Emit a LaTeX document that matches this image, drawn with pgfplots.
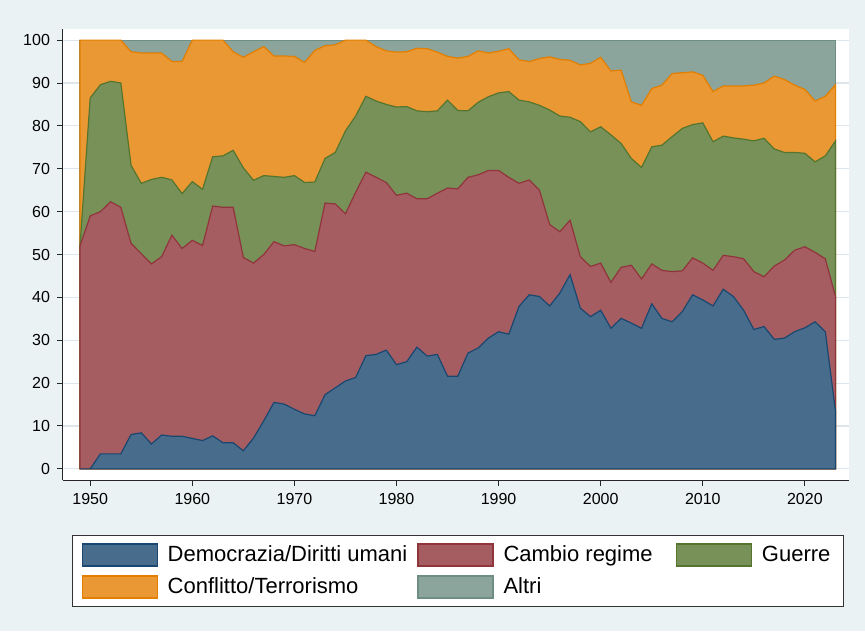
\documentclass[border=0pt]{standalone}
\usepackage{pgfplots}
\usepackage{pgfplotstable}
\pgfplotsset{compat=1.18}
\usepackage{fontspec}
\setmainfont{Liberation Sans}
\definecolor{snavy}{RGB}{26,71,111}
\definecolor{smaroon}{RGB}{144,53,59}
\definecolor{sgreen}{RGB}{85,117,47}
\definecolor{sorange}{RGB}{227,126,0}
\definecolor{steal}{RGB}{110,142,132}
\definecolor{bgc}{RGB}{234,242,243}
\definecolor{gridc}{RGB}{222,230,235}

\pgfplotstableread{
year B R G O T
1949 0 52 52 100 100
1950 0 59 86.5 100 100
1951 3.5 60 89.6 100 100
1952 3.5 62.3 90.4 100 100
1953 3.5 61 90 100 100
1954 8 52.6 70.8 97.3 100
1955 8.4 50.2 66.6 97 100
1956 5.8 47.8 67.5 97 100
1957 7.9 49.5 68 97 100
1958 7.6 54.5 67.4 95 100
1959 7.6 51.4 64.2 95 100
1960 7.1 53.3 67 100 100
1961 6.6 52.1 65.2 100 100
1962 7.7 61.3 72.8 100 100
1963 6.1 61 73 100 100
1964 6.1 61 74.3 97.3 100
1965 4.2 49.3 70.2 96 100
1966 7.2 48 67.3 97.3 100
1967 11.2 50 68.4 98.5 100
1968 15.5 53 68.2 96.3 100
1969 15.1 52 68 96.3 100
1970 13.9 52.3 68.4 96.2 100
1971 12.8 51.4 66.8 94.8 100
1972 12.4 50.7 66.9 97.6 100
1973 17.3 62 72.4 98.7 100
1974 18.9 61.8 73.8 98.9 100
1975 20.5 59.5 78.8 100 100
1976 21.3 64.5 82.3 100 100
1977 26.4 69.2 86.9 100 100
1978 26.7 68 85.8 98.5 100
1979 27.7 66.8 85 97.5 100
1980 24.3 63.8 84.4 97.2 100
1981 25 64.3 84.5 97.3 100
1982 28.4 63 83.5 98.1 100
1983 26.3 63 83.3 98 100
1984 26.7 64.3 83.5 97.2 100
1985 21.6 65.5 86 96.2 100
1986 21.6 65.3 83.6 95.8 100
1987 27 68 83.5 96.2 100
1988 28.2 68.6 85.5 97.5 100
1989 30.5 69.6 86.8 97 100
1990 32 69.6 87.7 97.4 100
1991 31.4 68 88 98 100
1992 37.9 66.6 86 95.4 100
1993 40.6 67.4 85.6 95 100
1994 40.2 65 84.8 95.7 100
1995 38 57 83.7 96.1 100
1996 41 55.3 82.3 95.5 100
1997 45.3 58 82 95.3 100
1998 37.5 49.5 81 94.2 100
1999 35.5 47.2 78.6 94.6 100
2000 37 48 79.8 96 100
2001 32.8 43.5 77.9 92.8 100
2002 35.1 47 75.9 93 100
2003 34 47.5 72.4 85.6 100
2004 32.8 44.3 70.3 84.8 100
2005 38.5 47.8 75.1 88.7 100
2006 35.1 46.3 75.5 89.5 100
2007 34.3 46 77.5 92.2 100
2008 36.7 46.2 79.4 92.4 100
2009 40.6 49.2 80.3 92.6 100
2010 39.4 48 80.7 91.8 100
2011 38 46.3 76.3 88 100
2012 41.9 49.8 77.6 89.3 100
2013 40.2 49.5 77.2 89.3 100
2014 37 49 76.9 89.3 100
2015 32.5 46 76.5 89.5 100
2016 33.2 44.8 77.1 90 100
2017 30.2 47.3 74.6 91.6 100
2018 30.5 48.7 73.8 90.8 100
2019 32 51 73.8 89.5 100
2020 32.9 51.8 73.6 88.5 100
2021 34.3 50.5 71.6 85.8 100
2022 32 49 73 86.9 100
2023 13.4 40.2 76.5 89.6 100
}\data

\begin{document}
\begin{tikzpicture}
\fill[bgc] (-31.5pt,-75.5pt) rectangle (401pt,240pt);
\begin{axis}[
  at={(0,0)}, anchor=south west,
  scale only axis, width=393pt, height=225.5pt,
  xmin=1947.335, xmax=2024.32, ymin=-2.6, ymax=102.6,
  axis background/.style={fill=white},
  axis x line*=bottom, axis y line*=left,
  axis line style={black!85, line width=0.5pt},
  xtick={1950,1960,...,2020}, ytick={0,10,...,100},
  tick align=outside, major tick length=3pt,
  tick style={black!85, line width=0.5pt},
  ymajorgrids, grid style={gridc, line width=0.6pt},
  /pgf/number format/1000 sep={},
  /pgf/number format/assume math mode=true,
  ticklabel style={font=\fontsize{8}{10}\selectfont},
  legend columns=3,
  legend cell align=left,
  legend style={at={(0.5025,0)}, anchor=north, yshift=-27.5pt,
    draw=black!80, line width=0.5pt, fill=white,
    font=\fontsize{11}{13}\selectfont,
    inner xsep=4.5pt, inner ysep=3pt, row sep=2.5pt,
    /tikz/every odd column/.append style={column sep=3pt},
    /tikz/every even column/.append style={column sep=3pt}},
]
\addlegendimage{legend image code/.code={\draw[fill=snavy!80!white, draw=snavy, line width=0.6pt] (0pt,-5.5pt) rectangle (37.5pt,5.5pt);}}
\addlegendentry{Democrazia/Diritti umani}
\addlegendimage{legend image code/.code={\draw[fill=smaroon!80!white, draw=smaroon, line width=0.6pt] (0pt,-5.5pt) rectangle (37.5pt,5.5pt);}}
\addlegendentry{Cambio regime\rule{6.5pt}{0pt}}
\addlegendimage{legend image code/.code={\draw[fill=sgreen!80!white, draw=sgreen, line width=0.6pt] (0pt,-5.5pt) rectangle (37.5pt,5.5pt);}}
\addlegendentry{Guerre}
\addlegendimage{legend image code/.code={\draw[fill=sorange!80!white, draw=sorange, line width=0.6pt] (0pt,-5.5pt) rectangle (37.5pt,5.5pt);}}
\addlegendentry{Conflitto/Terrorismo}
\addlegendimage{legend image code/.code={\draw[fill=steal!80!white, draw=steal, line width=0.6pt] (0pt,-5.5pt) rectangle (37.5pt,5.5pt);}}
\addlegendentry{Altri}

\addplot[fill=steal!80!white, draw=steal, line width=0.6pt, forget plot] table[x=year,y=T]{\data} \closedcycle;
\addplot[fill=sorange!80!white, draw=sorange, line width=0.6pt, forget plot] table[x=year,y=O]{\data} \closedcycle;
\addplot[fill=sgreen!80!white, draw=sgreen, line width=0.6pt, forget plot] table[x=year,y=G]{\data} \closedcycle;
\addplot[fill=smaroon!80!white, draw=smaroon, line width=0.6pt, forget plot] table[x=year,y=R]{\data} \closedcycle;
\addplot[fill=snavy!80!white, draw=snavy, line width=0.6pt, forget plot] table[x=year,y=B]{\data} \closedcycle;
\end{axis}
\end{tikzpicture}
\end{document}
